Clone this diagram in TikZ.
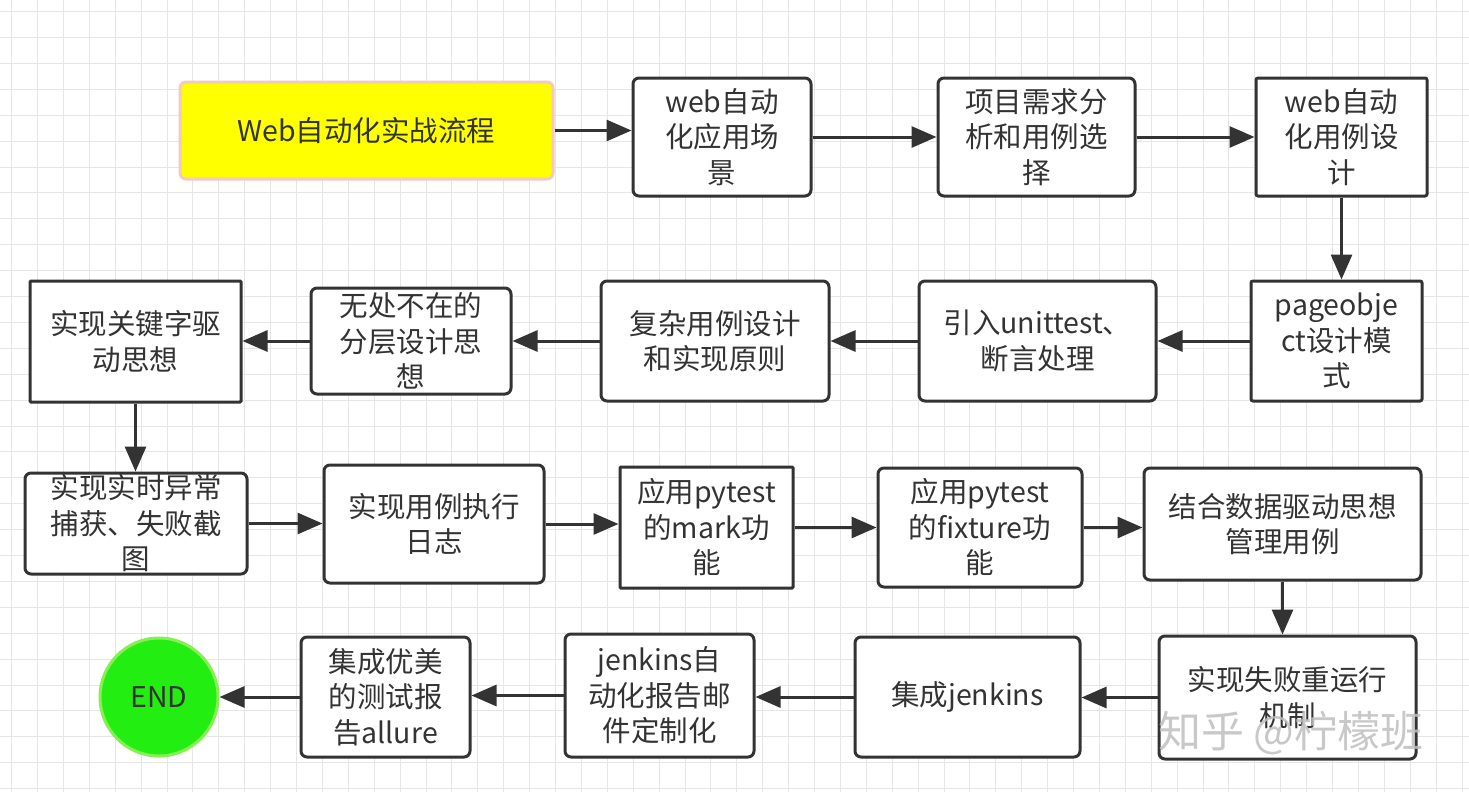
\documentclass[tikz,border=0pt]{standalone}
\usepackage{fontspec}
\setmainfont{Noto Sans CJK SC}
\usetikzlibrary{arrows.meta,calc}
\definecolor{ink}{HTML}{333333}
\definecolor{gridc}{HTML}{E6E6E6}
\definecolor{yel}{HTML}{FFFF00}
\definecolor{pinkb}{HTML}{F6C9C0}
\definecolor{grn}{HTML}{22EE11}
\definecolor{grnb}{HTML}{88EE55}
\definecolor{txt}{HTML}{333333}
\tikzset{
  box/.style={draw=ink, line width=3pt, fill=white, inner sep=0pt, align=center,
    text=txt, font=\fontsize{28.5}{35.5}\selectfont},
  rbox/.style={box, rounded corners=6pt},
  arr/.style={draw=ink, line width=3pt, -{Triangle[length=25pt,width=21pt]}},
}
\begin{document}
\begin{tikzpicture}[x=1pt,y=-1pt]
\useasboundingbox (0,0) rectangle (1469,792);
\fill[white] (0,0) rectangle (1469,792);
\foreach \i in {0,...,56}{
  \draw[gridc, line width=1pt] ({11.6+\i*25.9},0) -- ({11.6+\i*25.9},792);
}
\foreach \i in {0,...,30}{
  \draw[gridc, line width=1pt] (0,{11.6+\i*25.9}) -- (1469,{11.6+\i*25.9});
}
% row 1
\node[box, draw=pinkb, fill=yel, rounded corners=6pt, minimum width=373pt, minimum height=97pt] (n1) at (366.5,130.5) {Web自动化实战流程};
\node[rbox, minimum width=178pt, minimum height=118pt] (n2) at (722,137) {web自动\\化应用场\\景};
\node[rbox, minimum width=197pt, minimum height=118pt] (n3) at (1036.5,137) {项目需求分\\析和用例选\\择};
\node[box, rounded corners=2pt, minimum width=171pt, minimum height=118pt] (n4) at (1341.5,137) {web自动\\化用例设\\计};
% row 2
\node[box, rounded corners=2pt, minimum width=171pt, minimum height=120pt] (n5) at (1336.5,341) {pageobje\\ct设计模\\式};
\node[rbox, minimum width=237pt, minimum height=120pt] (n6) at (1037.5,341) {引入unittest、\\断言处理};
\node[rbox, minimum width=228pt, minimum height=120pt] (n7) at (715,341) {复杂用例设计\\和实现原则};
\node[rbox, minimum width=200pt, minimum height=106pt] (n8) at (411,341) {无处不在的\\分层设计思\\想};
\node[box, rounded corners=1pt, minimum width=211pt, minimum height=121pt] (n9) at (135.5,341.5) {实现关键字驱\\动思想};
% row 3
\node[rbox, minimum width=222pt, minimum height=101pt] (n10) at (136,523.5) {实现实时异常\\捕获、失败截\\图};
\node[rbox, minimum width=220pt, minimum height=118pt] (n11) at (434,524) {实现用例执行\\日志};
\node[box, rounded corners=1pt, minimum width=173pt, minimum height=121pt] (n12) at (706.5,527.5) {应用pytest\\的mark功\\能};
\node[rbox, minimum width=204pt, minimum height=119pt] (n13) at (980,527.5) {应用pytest\\的fixture功\\能};
\node[rbox, minimum width=277pt, minimum height=112pt] (n14) at (1282.5,524) {结合数据驱动思想\\管理用例};
% row 4
\node[rbox, minimum width=257pt, minimum height=123pt] (n15) at (1287.5,697.5) {实现失败重运行\\机制};
\node[rbox, minimum width=225pt, minimum height=120pt] (n16) at (967.5,697) {集成jenkins};
\node[rbox, minimum width=189pt, minimum height=123pt] (n17) at (659.5,695.5) {jenkins自\\动化报告邮\\件定制化};
\node[rbox, minimum width=169pt, minimum height=120pt] (n18) at (385.5,697) {集成优美\\的测试报\\告allure};
\node[circle, draw=grnb, fill=grn, line width=3pt, minimum size=118pt, inner sep=0pt,
      text=txt, font=\fontsize{28.5}{35}\selectfont] (end) at (159,697) {END};
% connectors
\draw[arr] (n1.east) -- (n1.east -| n2.west);
\draw[arr] (n2.east) -- (n2.east -| n3.west);
\draw[arr] (n3.east) -- (n3.east -| n4.west);
\draw[arr] (n4.south) -- (n4.south |- n5.north);
\draw[arr] (n5.west) -- (n5.west -| n6.east);
\draw[arr] (n6.west) -- (n6.west -| n7.east);
\draw[arr] (n7.west) -- (n7.west -| n8.east);
\draw[arr] (n8.west) -- (n8.west -| n9.east);
\draw[arr] (n9.south) -- (n9.south |- n10.north);
\draw[arr] (n10.east) -- (n10.east -| n11.west);
\draw[arr] (n11.east) -- (n11.east -| n12.west);
\draw[arr] (n12.east) -- (n12.east -| n13.west);
\draw[arr] (n13.east) -- (n13.east -| n14.west);
\draw[arr] (n14.south) -- (n14.south |- n15.north);
\draw[arr] (n15.west) -- (n15.west -| n16.east);
\draw[arr] (n16.west) -- (n16.west -| n17.east);
\draw[arr] (n17.west) -- (n17.west -| n18.east);
\draw[arr] (n18.west) -- (end.east);
% watermark
\node[text=gray!50, text opacity=0.85, font=\fontsize{43}{46}\selectfont, anchor=west, inner sep=0pt] (wm) at (1158,733) {知乎 @柠檬班};
\end{tikzpicture}
\end{document}
